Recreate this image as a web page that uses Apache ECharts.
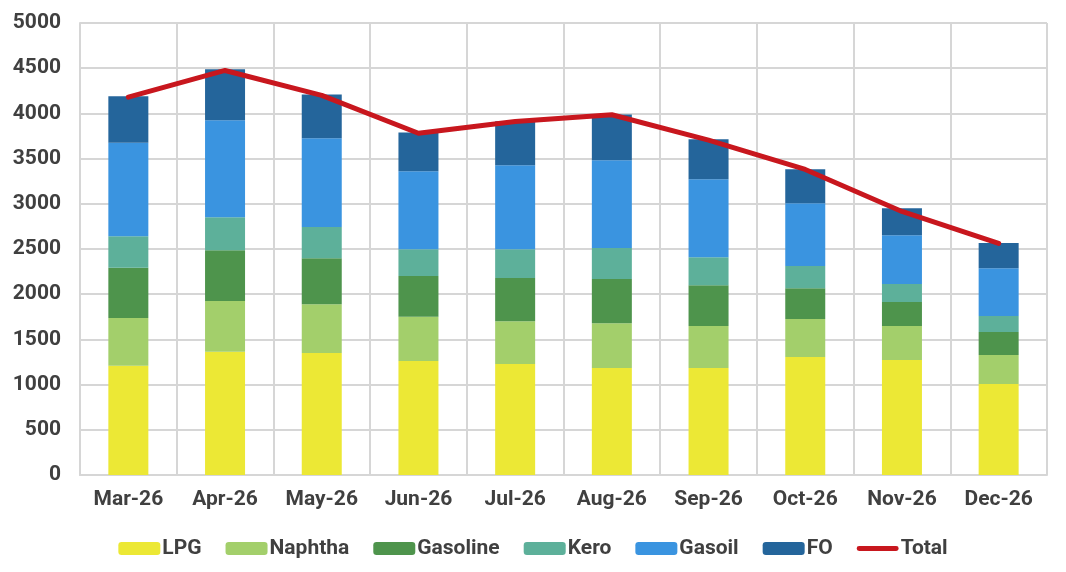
<!DOCTYPE html>
<html>
<head>
<meta charset="utf-8">
<script src="https://cdn.jsdelivr.net/npm/echarts@6/dist/echarts.min.js"></script>
<style>
  html, body { margin: 0; padding: 0; background: #fff; }
  #chart { width: 1066px; height: 572px; }
</style>
</head>
<body>
<div id="chart"></div>
<script>
// categories (months)
const months = ['Mar-26', 'Apr-26', 'May-26', 'Jun-26', 'Jul-26', 'Aug-26', 'Sep-26', 'Oct-26', 'Nov-26', 'Dec-26'];

// stacked components
const lpg      = [1209, 1363, 1349, 1260, 1227, 1183, 1183, 1304, 1271, 1006];
const naphtha  = [527, 561, 541, 490, 475, 497, 464, 421, 376, 321];
const gasoline = [556, 563, 509, 450, 476, 487, 453, 342, 266, 254];
const kero     = [350, 365, 343, 298, 320, 343, 310, 244, 199, 177];
const gasoil   = [1032, 1073, 984, 863, 929, 972, 862, 696, 541, 530];
const fo       = [516, 563, 482, 427, 486, 505, 442, 376, 299, 277];
// total line
const total    = [4180, 4475, 4200, 3780, 3910, 3985, 3705, 3380, 2915, 2562];

const yTicks = { min: 0, max: 5000, interval: 500 };

const textColor = '#404040';
const gridColor = '#d6d6d6';
const font = 'Roboto, "Noto Sans", sans-serif';

function barSeries(name, data, color) {
  return {
    name: name,
    type: 'bar',
    stack: 'all',
    barWidth: 40,
    itemStyle: { color: color },
    data: data
  };
}

const chart = echarts.init(document.getElementById('chart'));
chart.setOption({
  animation: false,
  textStyle: { fontFamily: font },
  grid: { left: 80, right: 19, top: 23, bottom: 97 },
  legend: {
    top: 533,
    left: 'center',
    itemWidth: 42,
    itemHeight: 13,
    itemGap: 24,
    textStyle: { color: textColor, fontSize: 21, fontWeight: 'bold', fontFamily: font, padding: [0, 0, 0, -3] },
    data: [
      'LPG', 'Naphtha', 'Gasoline', 'Kero', 'Gasoil', 'FO',
      // thin red bar for the line series, padded with empty moves so it sits mid-height
      { name: 'Total', icon: 'path://M0,0M42,13M2,4L40,4A2.5,2.5,0,0,1,40,9L2,9A2.5,2.5,0,0,1,2,4Z' }
    ]
  },
  xAxis: {
    type: 'category',
    data: months,
    boundaryGap: true,
    axisLine: { lineStyle: { color: gridColor, width: 2 } },
    axisTick: { show: false },
    splitLine: { show: true, lineStyle: { color: gridColor, width: 2 } },
    axisLabel: { color: textColor, fontSize: 21, fontWeight: 'bold', margin: 14 }
  },
  yAxis: {
    type: 'value',
    min: yTicks.min,
    max: yTicks.max,
    interval: yTicks.interval,
    axisLine: { show: true, lineStyle: { color: gridColor, width: 2 } },
    axisTick: { show: false },
    splitLine: { lineStyle: { color: gridColor, width: 2 } },
    axisLabel: {
      color: textColor, fontSize: 21, fontWeight: 'bold', margin: 19,
      formatter: function (v) { return String(v); }
    }
  },
  series: [
    barSeries('LPG', lpg, '#ece835'),
    barSeries('Naphtha', naphtha, '#a3cf6b'),
    barSeries('Gasoline', gasoline, '#4e944c'),
    barSeries('Kero', kero, '#5db09a'),
    barSeries('Gasoil', gasoil, '#3a94e0'),
    barSeries('FO', fo, '#24659b'),
    {
      name: 'Total',
      type: 'line',
      data: total,
      symbol: 'none',
      lineStyle: { color: '#c8171e', width: 5, cap: 'round', join: 'round' },
      itemStyle: { color: '#c8171e' },
      z: 10
    }
  ]
});
</script>
</body>
</html>
